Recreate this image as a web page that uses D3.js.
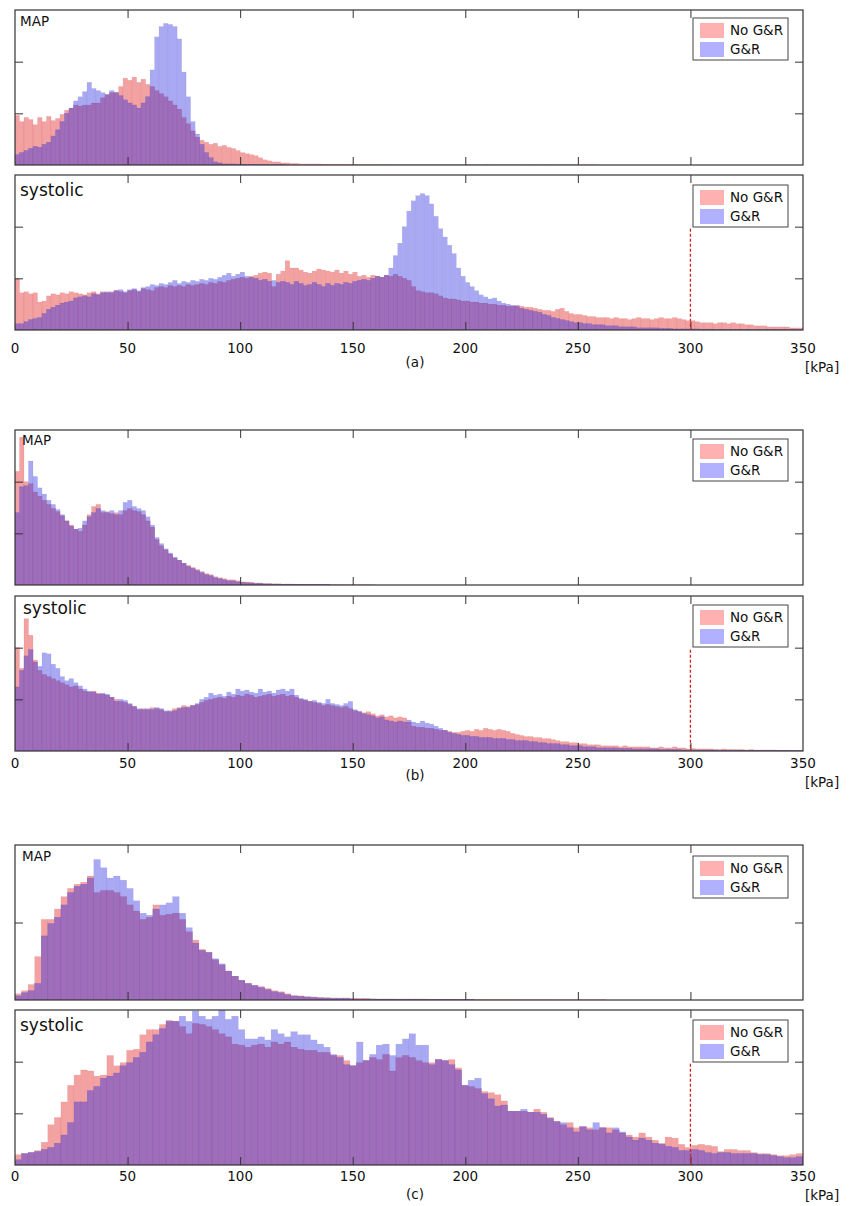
<!DOCTYPE html>
<html><head><meta charset="utf-8">
<script src="https://cdn.jsdelivr.net/npm/d3@7"></script>
<style>body{margin:0;background:#fff}svg{display:block;font-family:"DejaVu Sans",Verdana,sans-serif}</style>
</head><body>
<svg id="chart" width="854" height="1206"></svg>
<script>
// ---------- data ----------
const xTickValues = [0,50,100,150,200,250,300,350];
const seriesNames = ["No G&R","G&R"];
const panelNames = ["MAP","systolic"];
const groupNames = ["(a)","(b)","(c)"];
const unitLabel = "[kPa]";
const limitValue = 300;
const binWidthAB = 2;          // kPa per bin, groups (a),(b)
const binWidthC = 350/120;     // kPa per bin, group (c)

const aMapNoGR = [48,42,46,44,39,46,42,47,43,45, 49,53,55,58,57,58,58,60,60,65,
 68,70,70,76,84,82,85,80,83,78, 76,72,69,66,62,58,54,46,40,33,
 27,24,22,20,21,18,19,17,16,14, 12,11,10,9,7,5,4,3,3,2,
 2,1.5,1.5,1,1,1,1,1,0.8,0.8, 0.7,0.7,0.6,0.6,0.5,0.6,0.5,0.4,0.5,0.4,
 0.5,0.4,0.4,0.5,0.4,0.3,0.4,0.4,0.3,0.4, 0.3,0.4,0.3,0.3,0.4,0.3,0.3,0.3,0.4,0.3,
 0.3,0.3,0.3,0.2,0.3,0.3,0.2,0.3,0.2,0.3, 0.2,0.3,0.2,0.2,0.3,0.2,0.2,0.2,0.3,0.2,
 0.2,0.2,0.2,0.2,0.2,0.1,0.2,0.1,0.2,0.1];
const aMapGR = [10,12,14,16,18,17,20,22,28,34, 42,50,55,62,66,71,80,74,72,70,
 68,72,70,67,63,60,58,55,60,66, 92,124,134,137,136,134,122,90,66,42,
 30,20,12,7,3,2,1,1,1,0.8, 0.6,0.5,0.5,0.4,0.4,0.3,0.3,0.3,0.2,0.2];

const aSysNoGR = [50,36,37,35,36,27,28,33,35,34, 36,35,37,36,35,34,36,37,35,37,
 36,37,38,37,36,38,39,37,40,39, 38,41,42,41,43,42,43,42,44,43,
 44,45,44,46,45,47,46,48,49,50, 51,50,52,53,55,56,55,42,54,57,
 67,60,60,58,56,55,57,59,58,57, 56,58,55,57,54,56,52,53,51,53,
 52,51,53,52,54,52,50,48,42,38, 37,36,36,35,33,31,30,30,29,28,
 28,27,27,26,26,25,25,24,24,23, 23,24,23,22,22,21,20,19,19,18,
 20,21,18,16,15,15,14,13,13,12, 12,12,11,12,11,11,10,11,12,11,
 11,10,11,12,11,11,12,11,10,9, 9,8,7,7,7,6,7,7,6,7,
 6,6,5,5,4,4,4,3,3,3, 3,3,2,2,2];
const aSysGR = [6,6,8,10,11,12,16,20,22,24, 26,27,28,31,32,33,32,35,34,36,
 37,36,38,39,37,39,40,38,41,42, 44,43,45,44,46,48,45,47,46,48,
 47,49,48,50,49,51,53,55,52,54, 56,52,51,50,48,49,47,48,46,47,
 46,44,47,45,43,44,46,44,42,45, 43,45,44,46,45,47,48,49,48,50,
 52,51,53,60,72,84,100,115,125,130, 132,130,122,110,98,90,82,74,60,52,
 46,42,38,34,32,30,31,28,26,25, 24,23,21,20,19,18,17,15,14,12,
 11,10,9,8,7,7,6,6,5,5, 5,4,4,4,3,3,3,3,2,2,
 2,2,2,1.5,1.5,1.5,1,1,1,1, 1,1,0.8,0.8,0.8,0.6,0.6,0.6,0.5,0.5,
 0.5,0.5,0.4,0.4,0.4,0.4,0.3,0.3,0.3,0.3, 0.3,0.3,0.2,0.2,0.2];

const bMapNoGR = [110,143,100,98,90,86,82,78,74,71, 67,62,58,54,52,58,68,76,78,70,
 71,69,70,68,72,74,72,71,68,62, 56,44,38,34,30,26,24,21,19,17,
 15,13,11,10,8,7,6,5,5,4, 3,3,2.5,2,2,1.5,1.5,1.2,1.2,1,
 1,1,0.8,0.8,0.7,0.7,0.6,0.6,0.5,0.5, 0.5,0.4,0.4,0.4,0.3,0.3,0.3,0.3,0.3,0.2];
const bMapGR = [70,95,96,120,105,94,88,82,78,73, 68,62,57,54,55,62,66,70,74,72,
 70,72,68,72,80,82,76,74,72,66, 58,46,40,35,31,27,24,21,18,16,
 14,12,10,9,7,6,5,4,4,3, 2.5,2,2,1.5,1.5,1,1,0.8,0.8,0.7,
 0.6,0.6,0.5,0.5,0.5,0.4,0.4,0.4,0.3,0.3];

const bSysNoGR = [100,80,128,112,88,78,74,72,70,68, 66,64,62,63,60,58,57,58,56,55,
 54,52,50,48,47,45,43,40,41,40, 42,41,40,38,39,41,42,44,43,44,
 45,47,49,50,51,52,51,53,52,54, 53,55,54,52,53,54,55,53,54,55,
 53,54,52,50,49,48,47,46,44,45, 44,43,42,43,41,39,38,37,38,36,
 34,35,33,34,32,33,32,28,24,23, 23,22,22,21,20,20,19,18,18,19,
 20,19,21,20,22,21,20,21,20,19, 17,16,15,14,14,13,13,12,12,11,
 10,9,9,8,8,7,7,6,6,6, 5,5,5,5,4,5,4,4,4,4,
 4,3,3,4,3,3,4,3,3,2, 2.5,2,2,2,2,1.5,1.5,2,1.5,1.5,
 1.5,1.5,1,1.5,1,1,1,1,1,0.8, 0.8,0.8,0.5,0.5,0.5];
const bSysGR = [62,78,92,98,86,82,95,94,84,80, 72,68,70,66,63,60,58,57,55,56,
 55,52,48,50,49,46,43,41,40,41, 40,42,41,39,38,39,41,42,42,44,
 46,50,52,56,54,55,53,57,55,60, 58,59,57,56,60,57,58,56,59,60,
 58,60,54,51,50,48,49,47,46,50, 46,45,44,46,48,40,38,36,35,34,
 32,33,30,29,28,29,28,30,28,27, 29,27,26,24,22,20,18,17,16,15,
 15,14,14,13,13,13,12,12,12,11, 11,10,10,10,9,9,8,8,7,7,
 7,6,6,5,5,5,4,4,4,3, 3,3,3,3,2.5,2.5,2.5,2,2,2,
 2,2,2,1.5,1.5,1.5,1.5,1.5,1,1, 1,1,1,1,1,1,0.8,0.8,0.8,0.8,
 0.6,0.6,0.6,0.6,0.5,0.5,0.5,0.5,0.5,0.4, 0.4,0.4,0.4,0.3,0.3];

const cMapNoGR = [6,9,15,42,78,78,88,100,108,112, 114,120,104,106,106,104,100,92,86,78,
 80,92,82,83,84,78,66,58,49,46, 39,34,28,23,19,16,14,13,11,9,
 8,6,4,4,3,3,2.5,2,2,2, 2,1.5,1.5,1.5,1,1,1,1,1,1,
 1,1,1,0.8,0.8,0.8,0.8,0.7,0.7,0.7, 0.6,0.6,0.5,0.5,0.5,0.5,0.5,0.4,0.4,0.4,
 0.4,0.4,0.3,0.3,0.3,0.3,0.3,0.3,0.3,0.3];
const cMapGR = [4,7,9,16,62,74,80,92,104,110, 112,118,136,128,118,120,116,108,96,84,
 82,88,92,94,100,84,70,55,48,46, 40,35,28,23,19,16,14,12,10,8,
 7,5,4,3.5,3,2.5,2,2,1.5,1.5, 1.5,1,1,1,1,0.8,0.8,0.8,0.7,0.7,
 0.6,0.6,0.6,0.5,0.5,0.5,0.4,0.4,0.4,0.4];

const cSysNoGR = [10,11,12,14,22,39,46,61,77,87, 92,91,86,87,106,96,99,111,112,126,
 131,131,136,140,139,134,127,137,136,134, 131,127,124,117,116,114,116,117,114,119,
 117,119,114,112,111,111,109,109,106,106, 101,96,99,101,104,102,107,91,104,106,
 104,101,99,99,102,101,102,94,77,76, 74,71,70,68,62,52,52,52,51,54,
 51,46,42,39,41,36,37,36,34,36, 36,34,31,29,27,31,27,24,21,27,
 26,20,17,19,20,19,18,13,15,15, 14,14,12,11,11,10,9,9,10,11];
const cSysGR = [5,11,12,13,15,17,21,29,41,61, 61,72,76,84,86,89,96,99,104,109,
 119,126,132,139,139,144,139,149,144,141, 144,151,141,144,131,122,122,124,121,131,
 127,124,129,126,126,121,117,114,107,104, 97,96,119,101,107,116,117,106,117,122,
 127,116,116,97,102,101,97,92,77,82, 84,69,64,57,58,52,52,54,51,51,
 49,45,42,41,36,32,37,34,41,36, 31,36,32,27,24,26,24,21,20,18,
 17,14,14,15,14,12,11,12,12,11, 11,11,11,10,10,9,8,7,7,8];

// ---------- layout / style ----------
const RED = "#f3a1a1", BLUE = "#a9a9f3", PURPLE = "#9f6dba";
const RED_SW = "#ffb1b1", BLUE_SW = "#b1b1ff";
const FRAME = "#333";
const panelH = 155;
const x = d3.scaleLinear().domain([0,350]).range([15,803]);

const panels = [
 {top:10,   name:panelNames[0], red:aMapNoGR, blue:aMapGR, bw:binWidthAB, yt:[50,100], fs:13.5, lx:20, ly:15.5, leg:8},
 {top:175,  name:panelNames[1], red:aSysNoGR, blue:aSysGR, bw:binWidthAB, yt:[50,100], fs:17, lx:20, ly:21, leg:10,
  axis:{tick:353, grp:groupNames[0], grpY:367, unitY:372}},
 {top:430,  name:panelNames[0], red:bMapNoGR, blue:bMapGR, bw:binWidthAB, yt:[50,100], fs:13.5, lx:22, ly:15, leg:9},
 {top:596,  name:panelNames[1], red:bSysNoGR, blue:bSysGR, bw:binWidthAB, yt:[50,100], fs:17, lx:23, ly:18, leg:9,
  axis:{tick:768, grp:groupNames[1], grpY:780, unitY:787}},
 {top:845,  name:panelNames[0], red:cMapNoGR, blue:cMapGR, bw:binWidthC, yt:[75], fs:13.5, lx:22, ly:16, leg:11},
 {top:1010, name:panelNames[1], red:cSysNoGR, blue:cSysGR, bw:binWidthC, yt:[50,100], fs:17, lx:20, ly:21, leg:10,
  axis:{tick:1181, grp:groupNames[2], grpY:1199, unitY:1200}}
];

const svg = d3.select("#chart");

panels.forEach((p, pi) => {
  const y = d3.scaleLinear().domain([0,150]).range([p.top + panelH, p.top]);
  const n = Math.max(p.red.length, p.blue.length);
  const bins = d3.range(n).map(i => ({
    x0: i * p.bw, x1: Math.min((i + 1) * p.bw, 350),
    r: p.red[i] || 0, b: p.blue[i] || 0
  })).filter(d => d.x0 < 350);
  const g = svg.append("g");
  const clipId = "clip" + pi;
  g.append("clipPath").attr("id", clipId).append("rect")
    .attr("x", x(0)).attr("y", p.top).attr("width", x(350) - x(0)).attr("height", panelH);
  const bars = g.append("g").attr("clip-path", `url(#${clipId})`);
  const layer = (val, fill, stroke) => bars.append("g").selectAll("rect").data(bins).join("rect")
    .attr("x", d => x(d.x0)).attr("width", d => x(d.x1) - x(d.x0))
    .attr("y", d => y(val(d))).attr("height", d => y(0) - y(val(d)))
    .attr("fill", fill).attr("stroke", stroke).attr("stroke-width", 0.4);
  layer(d => d.r, RED, "rgba(200,90,90,0.3)");
  layer(d => d.b, BLUE, "rgba(100,100,200,0.3)");
  layer(d => Math.min(d.r, d.b), PURPLE, "rgba(90,40,120,0.25)");

  // ticks (inward on all four sides)
  const inner = xTickValues.slice(1, -1);
  const tickStyle = s => { s.select(".domain").remove(); s.attr("color", FRAME).selectAll("line").attr("stroke-width", 1); };
  g.append("g").attr("transform", `translate(0,${y(0)})`)
    .call(d3.axisBottom(x).tickValues(inner).tickSize(-8).tickFormat("")).call(tickStyle);
  g.append("g").attr("transform", `translate(0,${p.top})`)
    .call(d3.axisTop(x).tickValues(inner).tickSize(-8).tickFormat("")).call(tickStyle);
  g.append("g").attr("transform", `translate(${x(0)},0)`)
    .call(d3.axisLeft(y).tickValues(p.yt).tickSize(-8).tickFormat("")).call(tickStyle);
  g.append("g").attr("transform", `translate(${x(350)},0)`)
    .call(d3.axisRight(y).tickValues(p.yt).tickSize(-8).tickFormat("")).call(tickStyle);

  // frame
  g.append("rect").attr("x", x(0)).attr("y", p.top).attr("width", x(350) - x(0)).attr("height", panelH)
    .attr("fill", "none").attr("stroke", FRAME).attr("stroke-width", 1.2);

  // panel label
  g.append("text").attr("x", p.lx).attr("y", p.top + p.ly).attr("font-size", p.fs)
    .attr("fill", "#111").text(p.name);

  // legend
  const lg = g.append("g").attr("transform", `translate(693,${p.top + p.leg})`);
  lg.append("rect").attr("width", 95).attr("height", 42).attr("fill", "#fff")
    .attr("stroke", "#444").attr("stroke-width", 1);
  const swatch = [RED_SW, BLUE_SW];
  seriesNames.forEach((s, k) => {
    lg.append("rect").attr("x", 7).attr("y", 5 + k * 19).attr("width", 24).attr("height", 15).attr("fill", swatch[k]);
    lg.append("text").attr("x", 37).attr("y", 17 + k * 19).attr("font-size", 13.5).attr("fill", "#111").text(s);
  });

  // systolic: limit line + x labels
  if (p.axis) {
    g.append("line").attr("x1", x(limitValue)).attr("x2", x(limitValue))
      .attr("y1", y(98)).attr("y2", y(0))
      .attr("stroke", "#d42020").attr("stroke-width", 1.3).attr("stroke-dasharray", "3,2");
    g.append("g").selectAll("text").data(xTickValues).join("text")
      .attr("x", d => x(d)).attr("y", p.axis.tick).attr("text-anchor", "middle")
      .attr("font-size", 13.5).attr("fill", "#111").text(d => d);
    g.append("text").attr("x", 415).attr("y", p.axis.grpY).attr("text-anchor", "middle")
      .attr("font-size", 13.5).attr("fill", "#111").text(p.axis.grp);
    g.append("text").attr("x", 805).attr("y", p.axis.unitY)
      .attr("font-size", 13.5).attr("fill", "#111").text(unitLabel);
  }
});
</script>
</body></html>
